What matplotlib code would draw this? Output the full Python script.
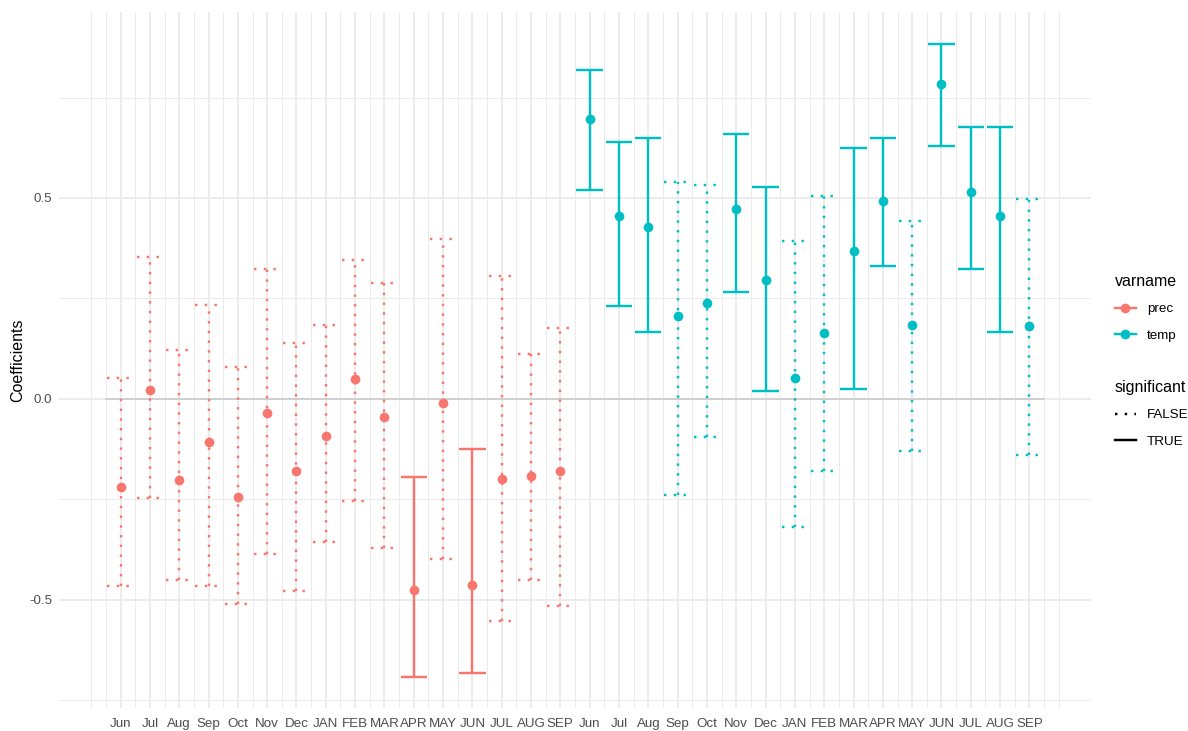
import numpy as np
import matplotlib
matplotlib.use("Agg")
import matplotlib.pyplot as plt
from matplotlib.lines import Line2D

plt.rcParams["font.family"] = ["Liberation Sans", "DejaVu Sans"]

# Month labels for the two predictor groups (previous-year lowercase, current-year uppercase)
month_labels = ["Jun", "Jul", "Aug", "Sep", "Oct", "Nov", "Dec",
                "JAN", "FEB", "MAR", "APR", "MAY", "JUN", "JUL", "AUG", "SEP"]

# Precipitation coefficients with confidence bounds
prec_coef = [-0.219, 0.023, -0.202, -0.107, -0.244, -0.036, -0.179, -0.093,
             0.050, -0.046, -0.474, -0.009, -0.463, -0.200, -0.191, -0.179]
prec_low = [-0.464, -0.247, -0.451, -0.464, -0.509, -0.385, -0.478, -0.356,
            -0.254, -0.371, -0.691, -0.398, -0.681, -0.553, -0.451, -0.514]
prec_high = [0.053, 0.354, 0.123, 0.235, 0.079, 0.324, 0.139, 0.183,
             0.345, 0.289, -0.195, 0.399, -0.124, 0.306, 0.111, 0.177]
prec_sig = [False, False, False, False, False, False, False, False,
            False, False, True, False, True, False, False, False]

# Temperature coefficients with confidence bounds
temp_coef = [0.697, 0.454, 0.429, 0.206, 0.239, 0.472, 0.295, 0.052,
             0.165, 0.368, 0.492, 0.184, 0.784, 0.516, 0.456, 0.181]
temp_low = [0.521, 0.232, 0.167, -0.239, -0.094, 0.266, 0.019, -0.319,
            -0.179, 0.024, 0.332, -0.130, 0.630, 0.324, 0.167, -0.140]
temp_high = [0.819, 0.639, 0.650, 0.541, 0.532, 0.658, 0.527, 0.392,
             0.505, 0.625, 0.650, 0.443, 0.883, 0.677, 0.677, 0.497]
temp_sig = [True, True, True, False, False, True, True, False,
            False, True, True, False, True, True, True, False]

series = [
    ("prec", "#F8766D", prec_coef, prec_low, prec_high, prec_sig),
    ("temp", "#00BFC4", temp_coef, temp_low, temp_high, temp_sig),
]

W, H = 1188, 731
fig = plt.figure(figsize=(W / 100, H / 100), dpi=100)
ax = fig.add_axes([59 / W, 1 - 708.4 / H, 1032 / W, 696 / H])

n = len(month_labels)
tick_labels = month_labels + month_labels
x_all = np.arange(1, 2 * n + 1)

# Scale limits with 5% expansion, as in ggplot2 continuous scales
all_low = np.array(prec_low + temp_low)
all_high = np.array(prec_high + temp_high)
ylo, yhi = all_low.min(), all_high.max()
ypad = 0.05 * (yhi - ylo)
xlo, xhi = 0.5, 2 * n + 0.5
xpad = 0.05 * (xhi - xlo)
ax.set_xlim(xlo - xpad, xhi + xpad)
ax.set_ylim(ylo - ypad, yhi + ypad)

# Grid
ax.set_xticks(x_all)
ax.set_xticks(np.concatenate([[0], np.arange(0.5, 2 * n + 1, 1.0), [2 * n + 1]]), minor=True)
ax.set_yticks([-0.5, 0.0, 0.5])
ax.set_yticks([-0.75, -0.25, 0.25, 0.75], minor=True)
ax.set_xticklabels(tick_labels)
ax.set_yticklabels(["-0.5", "0.0", "0.5"])
ax.grid(which="major", color="#EBEBEB", lw=1.35, zorder=0)
ax.grid(which="minor", color="#EBEBEB", lw=0.7, zorder=0)
ax.set_axisbelow(True)
for s in ax.spines.values():
    s.set_visible(False)
ax.tick_params(which="both", length=0)
ax.tick_params(axis="x", pad=7, labelsize=9.6, labelcolor="#4D4D4D")
ax.tick_params(axis="y", pad=5, labelsize=9.6, labelcolor="#4D4D4D")

# Reference line at zero
ax.plot([xlo, xhi], [0, 0], color="#C8C8C8", lw=1.1, zorder=1)

dotted = (0, (1, 3))
lw_bar = 1.75
cap = 0.45
for k, (name, color, coef, low, high, sig) in enumerate(series):
    x = x_all[k * n:(k + 1) * n]
    coef = np.array(coef)
    low = np.array(low)
    high = np.array(high)
    sig = np.array(sig)
    for flag, ls in [(False, dotted), (True, "-")]:
        m = sig == flag
        if not m.any():
            continue
        ax.vlines(x[m], low[m], high[m], colors=color, linestyles=ls, lw=lw_bar, zorder=2)
        ax.hlines(low[m], x[m] - cap, x[m] + cap, colors=color, linestyles=ls, lw=lw_bar, zorder=2)
        ax.hlines(high[m], x[m] - cap, x[m] + cap, colors=color, linestyles=ls, lw=lw_bar, zorder=2)
    ax.plot(x, coef, "o", color=color, ms=7, mec="none", zorder=3)

ax.set_ylabel("Coefficients", fontsize=11.5, color="black", va="center")
ax.yaxis.set_label_coords((17.5 - 59) / 1032, 0.5)

# Legends
legend_kw = dict(loc="upper left", bbox_transform=fig.transFigure, frameon=False,
                 fontsize=9.6, title_fontsize=11.5, alignment="left", borderpad=0,
                 borderaxespad=0, handlelength=1.55, handletextpad=0.85,
                 labelspacing=1.05)

var_handles = [Line2D([], [], color=c, lw=lw_bar, marker="o", ms=7, mec="none")
               for _, c, *_ in series]
leg1 = ax.legend(var_handles, [s[0] for s in series], title="varname",
                 bbox_to_anchor=(1115 / W, 1 - 274 / H), numpoints=1, **legend_kw)
ax.add_artist(leg1)

sig_handles = [Line2D([], [], color="black", lw=lw_bar, linestyle=dotted),
               Line2D([], [], color="black", lw=lw_bar, linestyle="-")]
ax.legend(sig_handles, ["FALSE", "TRUE"], title="significant",
          bbox_to_anchor=(1115 / W, 1 - 380 / H), **legend_kw)

fig.savefig("out.png", dpi=100, facecolor="white")
